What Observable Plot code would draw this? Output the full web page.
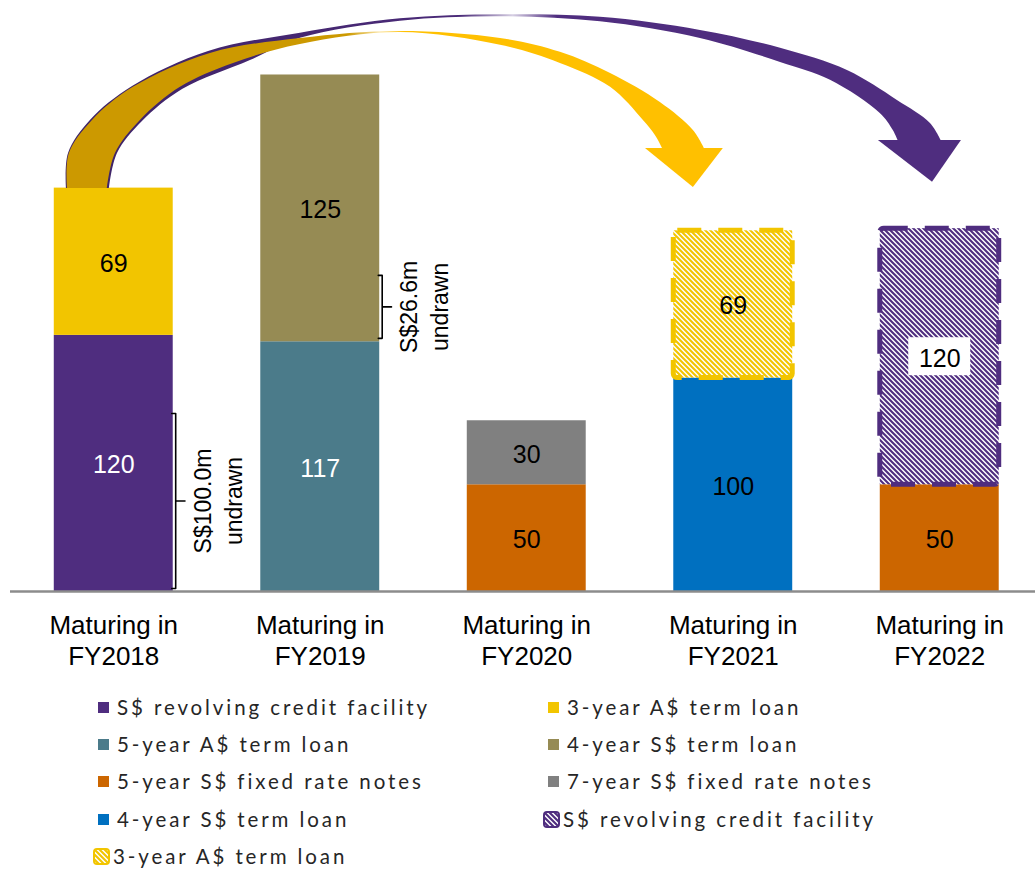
<!DOCTYPE html>
<html><head><meta charset="utf-8">
<script src="https://cdn.jsdelivr.net/npm/d3@7"></script>
<script src="https://cdn.jsdelivr.net/npm/@observablehq/plot@0.6"></script>
<style>
html,body{margin:0;padding:0;background:#fff;}
#wrap{position:relative;width:1035px;height:869px;overflow:hidden;background:#fff;}
#chart svg{display:block;}
#legend{position:absolute;left:0;top:685px;width:1035px;height:184px;font-family:Lato,"Open Sans",sans-serif;font-size:20.5px;letter-spacing:2.9px;color:#262626;}
.item{position:absolute;height:18px;line-height:18px;white-space:nowrap;}
.sw{position:absolute;}
</style></head><body><div id="wrap"><div id="chart"></div><div id="legend"></div></div>
<script>
// ---------- data ----------
const categories = ["FY2018","FY2019","FY2020","FY2021","FY2022"];
const seriesNames = ["S$ revolving credit facility","3-year A$ term loan","5-year A$ term loan","4-year S$ term loan","5-year S$ fixed rate notes","7-year S$ fixed rate notes","4-year S$ term loan","S$ revolving credit facility","3-year A$ term loan"];
const seriesColors = ["#4F2D7F","#F2C500","#4B7B8A","#968B54","#CC6600","#808080","#0070C0","#4F2D7F","#F2C500"];
const seriesHatched = [false,false,false,false,false,false,false,true,true];
const seriesLabelColor = ["white","black","white","black","black","black","black","black","black"];
const segCategory = [0,0,1,1,2,2,3,3,4,4];
const segSeries   = [0,1,2,3,4,5,6,8,4,7];
const segValue    = [120,69,117,125,50,30,100,69,50,120];
// undrawn notes (brackets)
const noteCategory = [0,1];
const noteLow  = [1.4,118.6];
const noteHigh = [83.4,148.1];
const noteText = ["S$100.0m\nundrawn","S$26.6m\nundrawn"];
// refinancing arrows (x in category-index units, y in value units)
const yellowOuterX = [-0.224,-0.215,-0.103,0.095,0.468,0.904,1.388,1.873,2.163,2.406,2.647,2.807,2.865];
const yellowOuterY = [188.8,205.2,220.7,236.2,252.1,259.1,262.4,259.1,252.6,242.7,229.1,216.0,206.7];
const yellowInnerX = [-0.031,0.008,0.129,0.323,0.580,0.904,1.388,1.873,2.163,2.406,2.565,2.623,2.662];
const yellowInnerY = [188.8,205.2,220.7,236.2,247.4,256.3,261.9,255.9,247.4,236.2,220.7,213.7,206.7];
const purpleOuterX = [-0.229,-0.219,-0.113,0.091,0.459,0.904,1.388,1.873,2.357,2.841,3.229,3.553,3.795,3.955,4.014];
const purpleOuterY = [188.8,205.2,220.7,236.6,253.0,261.6,268.3,270.2,269.0,262.9,254.5,244.1,230.1,219.3,209.9];
const purpleInnerX = [-0.021,0.018,0.139,0.333,0.662,0.904,1.388,1.873,2.357,2.841,3.229,3.471,3.712,3.775,3.804];
const purpleInnerY = [188.8,205.2,220.2,235.2,248.8,259.2,267.2,269.3,266.9,259.1,247.9,239.5,224.0,216.0,209.9];
const yellowHeadX = [2.575,2.952,2.807];
const yellowHeadY = [207.6,207.6,189.3];
const purpleHeadX = [3.703,4.105,3.965];
const purpleHeadY = [211.3,211.3,191.7];

// ---------- derived ----------
const barHalf = 0.288;
const base = categories.map(() => 0);
const segments = segValue.map((v, k) => {
  const c = segCategory[k]; const y1 = base[c]; base[c] += v;
  return {c, s: segSeries[k], v, y1, y2: base[c], ym: (y1 + base[c]) / 2};
});
const zipEdge = (ox, oy, ix, iy) => ox.map((_, i) => ({x1: ox[i], y1: oy[i], x2: ix[i], y2: iy[i]}));
const yellowBody = zipEdge(yellowOuterX, yellowOuterY, yellowInnerX, yellowInnerY);
const purpleBody = zipEdge(purpleOuterX, purpleOuterY, purpleInnerX, purpleInnerY);
const head = (X, Y) => [{x1: X[0], y1: Y[0], x2: X[1], y2: Y[1]}, {x1: X[2], y1: Y[2], x2: X[2], y2: Y[2]}];
const notes = noteCategory.map((c, i) => ({c, lo: noteLow[i], hi: noteHigh[i], mid: (noteLow[i] + noteHigh[i]) / 2, text: noteText[i]}));
const bracketPts = notes.flatMap((n, i) => [
  {z: i, x: n.c + 0.281, y: n.hi}, {z: i, x: n.c + 0.300, y: n.hi}, {z: i, x: n.c + 0.300, y: n.mid},
  {z: i, x: n.c + 0.345, y: n.mid}, {z: i, x: n.c + 0.300, y: n.mid}, {z: i, x: n.c + 0.300, y: n.lo},
  {z: i, x: n.c + 0.281, y: n.lo}]);
const fillOf = d => seriesHatched[d.s] ? `url(#hatch${d.s})` : seriesColors[d.s];

const chart = Plot.plot({
  width: 1035, height: 685,
  marginLeft: 10, marginRight: 0, marginTop: 0, marginBottom: 94,
  x: {domain: [-0.5, 4.4637], axis: null},
  y: {domain: [0, 276.9], axis: null},
  color: {type: "identity"},
  style: {fontFamily: "'Liberation Sans', Arial, sans-serif", background: "white", color: "black"},
  marks: [
    Plot.rect(segments, {x1: d => d.c - barHalf, x2: d => d.c + barHalf, y1: "y1", y2: "y2", fill: fillOf}),
    Plot.rect(segments.filter(d => seriesHatched[d.s]), {x1: d => d.c - barHalf, x2: d => d.c + barHalf, y1: "y1", y2: "y2",
      fill: "none", stroke: d => seriesColors[d.s], strokeWidth: 5, strokeDasharray: "24,17", rx: 4}),
    Plot.ruleY([0], {stroke: "#8c8c8c", strokeWidth: 2.5}),
    Plot.rect(segments.filter(d => d.s === 7), {x1: "c", x2: "c", y1: "ym", y2: "ym", fill: "white",
      insetLeft: -31, insetRight: -31, insetTop: -19, insetBottom: -19}),
    Plot.text(segments, {x: "c", y: "ym", text: d => String(d.v), fill: d => seriesLabelColor[d.s], fontSize: 25, dy: 2}),
    Plot.text(categories, {x: (d, i) => i, y: 0, text: d => "Maturing in\n" + d, fontSize: 26, lineHeight: 1.2, dy: 48, fill: "black"}),
    Plot.line(bracketPts, {x: "x", y: "y", z: "z", stroke: "black", strokeWidth: 1.6}),
    Plot.text(notes, {x: d => d.c + 0.497, y: "mid", text: "text", rotate: -90, fontSize: 23, lineHeight: 1.35, fill: "black"}),
    Plot.area(purpleBody, {x1: "x1", y1: "y1", x2: "x2", y2: "y2", fill: "url(#gradPurple)", curve: "catmull-rom"}),
    Plot.area(head(purpleHeadX, purpleHeadY), {x1: "x1", y1: "y1", x2: "x2", y2: "y2", fill: "#4F2D7F"}),
    Plot.area(yellowBody, {x1: "x1", y1: "y1", x2: "x2", y2: "y2", fill: "url(#gradYellow)", curve: "catmull-rom"}),
    Plot.area(head(yellowHeadX, yellowHeadY), {x1: "x1", y1: "y1", x2: "x2", y2: "y2", fill: "#FFC000"})
  ]
});
document.getElementById("chart").appendChild(chart);

// defs: hatch patterns and arrow gradients
const defs = d3.select(chart).insert("defs", ":first-child");
[7, 8].forEach(s => {
  const p = defs.append("pattern").attr("id", "hatch" + s).attr("patternUnits", "userSpaceOnUse").attr("width", 5).attr("height", 5);
  p.append("rect").attr("width", 5).attr("height", 5).attr("fill", "white");
  p.append("path").attr("d", "M-1,-1L6,6M-1,4L1,6M4,-1L6,1").attr("stroke", seriesColors[s]).attr("stroke-width", 2.1);
});
const grad = (id, stops) => {
  const g = defs.append("linearGradient").attr("id", id).attr("x1", 0).attr("x2", 1).attr("y1", 0).attr("y2", 0);
  stops.forEach(([o, c]) => g.append("stop").attr("offset", o).attr("stop-color", c));
};
grad("gradYellow", [[0, "#CC9900"], [0.44, "#CC9900"], [0.49, "#FBE6A8"], [0.53, "#FFC000"], [1, "#FFC000"]]);
grad("gradPurple", [[0, "#3E2366"], [0.45, "#4A2A78"], [0.51, "#D6CFE3"], [0.56, "#4F2D7F"], [1, "#4F2D7F"]]);

// ---------- legend ----------
const legend = d3.select("#legend");
const colBase = [96, 546];
seriesNames.forEach((name, i) => {
  const col = i % 2, row = Math.floor(i / 2);
  const center = 21.5 + row * 37.4;   // row centre, relative to legend top
  const b = colBase[col];
  if (seriesHatched[i]) {
    legend.append("svg").attr("class", "sw").attr("width", 17).attr("height", 17)
      .style("left", (b - 3) + "px").style("top", (center - 8) + "px")
      .append("rect").attr("x", 1).attr("y", 1).attr("width", 15).attr("height", 15).attr("rx", 3)
      .attr("fill", `url(#hatch${i})`).attr("stroke", seriesColors[i]).attr("stroke-width", 2);
    legend.append("div").attr("class", "item").style("left", (b + 17) + "px").style("top", (center - 9) + "px").text(name);
  } else {
    legend.append("div").attr("class", "sw").style("left", (b + 2) + "px").style("top", (center - 5) + "px")
      .style("width", "11px").style("height", "11px").style("background", seriesColors[i]);
    legend.append("div").attr("class", "item").style("left", (b + 21) + "px").style("top", (center - 9) + "px").text(name);
  }
});
</script></body></html>
